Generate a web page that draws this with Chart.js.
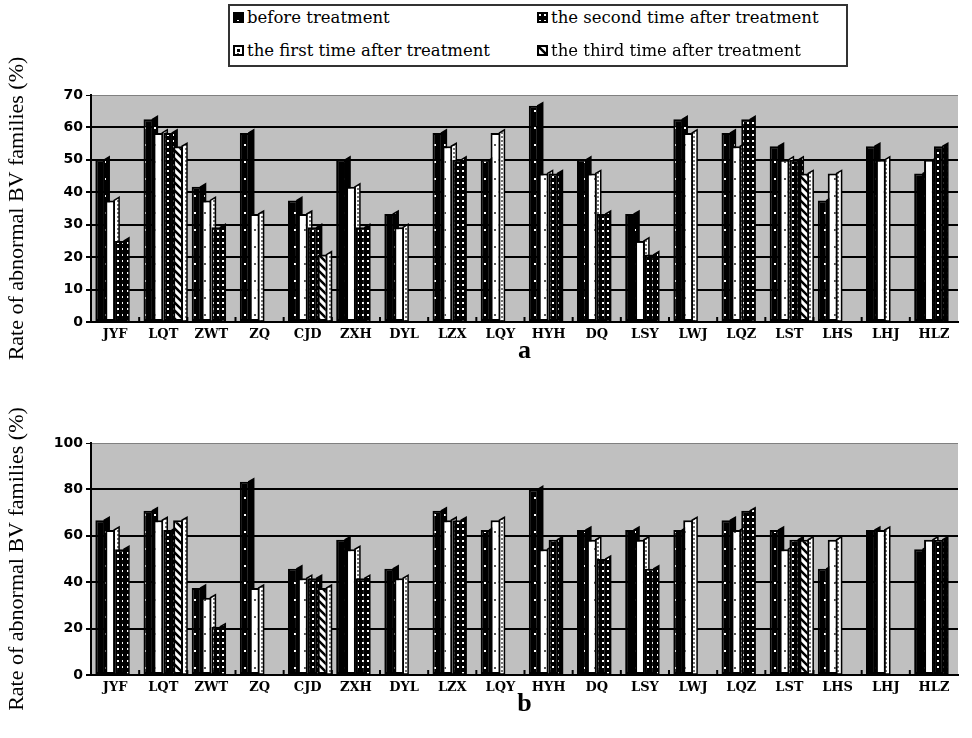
<!DOCTYPE html>
<html><head><meta charset="utf-8">
<script src="https://cdn.jsdelivr.net/npm/chart.js@4/dist/chart.umd.min.js"></script>
<style>
html,body{margin:0;padding:0;background:#fff;width:972px;height:738px;overflow:hidden}
#legend{position:absolute;left:228px;top:4px;width:620px;height:63px;border:2px solid #333;box-sizing:border-box;font-family:"DejaVu Serif";font-size:16.5px;color:#000}
.item{position:absolute;display:flex;align-items:center;white-space:nowrap;height:20px}
.item canvas{margin-right:3px}
#ca{position:absolute;left:0;top:0}
#cb{position:absolute;left:0;top:370px}
</style></head>
<body>
<div id="legend"></div>
<canvas id="ca" width="972" height="370"></canvas>
<canvas id="cb" width="972" height="368"></canvas>
<script>
const categories = ["JYF","LQT","ZWT","ZQ","CJD","ZXH","DYL","LZX","LQY","HYH","DQ","LSY","LWJ","LQZ","LST","LHS","LHJ","HLZ"];
const seriesNames = ["before treatment","the first time after treatment","the second time after treatment","the third time after treatment"];

// chart a
const beforeA = [50, 62.5, 41.7, 58.3, 37.5, 50, 33.3, 58.3, 50, 66.7, 50, 33.3, 62.5, 58.3, 54.2, 37.5, 54.2, 45.8];
const firstA  = [37.5, 58.3, 37.5, 33.3, 33.3, 41.7, 29.2, 54.2, 58.3, 45.8, 45.8, 25, 58.3, 54.2, 50, 45.8, 50, 50];
const secondA = [25, 58.3, 29.2, null, 29.2, 29.2, null, 50, null, 45.8, 33.3, 20.8, null, 62.5, 50, null, null, 54.2];
const thirdA  = [null, 54.2, null, null, 20.8, null, null, null, null, null, null, null, null, null, 45.8, null, null, null];
const yTicksA = [0, 10, 20, 30, 40, 50, 60, 70];

// chart b
const beforeB = [66.7, 70.8, 37.5, 83.3, 45.8, 58.3, 45.8, 70.8, 62.5, 80, 62.5, 62.5, 62.5, 66.7, 62.5, 45.8, 62.5, 54.2];
const firstB  = [62.5, 66.7, 33.3, 37.5, 41.7, 54.2, 41.7, 66.7, 66.7, 54.2, 58.3, 58.3, 66.7, 62.5, 54.2, 58.3, 62.5, 58.3];
const secondB = [54.2, 62.5, 20.8, null, 41.7, 41.7, null, 66.7, null, 58.3, 50, 45.8, null, 70.8, 58.3, null, null, 58.3];
const thirdB  = [null, 66.7, null, null, 37.5, null, null, null, null, null, null, null, null, null, 58.3, null, null, null];
const yTicksB = [0, 20, 40, 60, 80, 100];

function makeTile(w,h,draw){const c=document.createElement('canvas');c.width=w;c.height=h;const g=c.getContext('2d');draw(g,w,h);return c;}
const tiles = [
  makeTile(10,17,(g,w,h)=>{g.fillStyle='#000';g.fillRect(0,0,w,h);g.fillStyle='#fff';g.fillRect(4,8,2,2);}),
  makeTile(10,17,(g,w,h)=>{g.fillStyle='#fff';g.fillRect(0,0,w,h);g.fillStyle='#555';g.fillRect(4,8,2,2);}),
  makeTile(5,6,(g,w,h)=>{g.fillStyle='#000';g.fillRect(0,0,w,h);g.fillStyle='#fff';g.fillRect(2,2,2,2);}),
  makeTile(8,8,(g,w,h)=>{g.fillStyle='#fff';g.fillRect(0,0,w,h);g.strokeStyle='#000';g.lineWidth=2.5;g.beginPath();g.moveTo(-2,-2);g.lineTo(10,10);g.moveTo(-2,6);g.lineTo(2,10);g.moveTo(6,-2);g.lineTo(10,2);g.stroke();})
];
const sideTiles = [
  tiles[0],
  makeTile(4,4,(g,w,h)=>{g.fillStyle='#fff';g.fillRect(0,0,w,h);g.fillStyle='#777';g.fillRect(1,0,2,2);}),
  tiles[2],
  makeTile(4,4,(g,w,h)=>{g.fillStyle='#fff';g.fillRect(0,0,w,h);g.fillStyle='#777';g.fillRect(1,0,2,2);})
];

// legend
const legendLayout = [[0,3,11],[2,307,11],[1,3,44],[3,307,44]];
const leg = document.getElementById('legend');
legendLayout.forEach(([si,x,y])=>{
  const d=document.createElement('div');d.className='item';d.style.left=x+'px';d.style.top=(y-10)+'px';
  const c=document.createElement('canvas');c.width=11;c.height=11;const g=c.getContext('2d');
  g.fillStyle=g.createPattern(tiles[si],'repeat');g.fillRect(0,0,11,11);
  if(si===1){g.fillStyle='#000';g.fillRect(4,4,3,3);}
  g.strokeStyle='#000';g.lineWidth=2;g.strokeRect(1,1,9,9);
  d.appendChild(c);const s=document.createElement('span');s.textContent=seriesNames[si];d.appendChild(s);leg.appendChild(d);
});

const DX=4, DY=3;
const framePlugin = {
  id:'frame',
  beforeDraw(chart){const {ctx,chartArea:a}=chart;ctx.save();ctx.fillStyle='#c0c0c0';ctx.fillRect(a.left,a.top,a.right-a.left,a.bottom-a.top);ctx.restore();},
  beforeDatasetsDraw(chart){
    const ctx=chart.ctx;const sides=chart.$sides;
    chart.data.datasets.forEach((ds,di)=>{
      const meta=chart.getDatasetMeta(di);
      meta.data.forEach((el,i)=>{
        if(ds.data[i]==null)return;
        const p=el.getProps(['x','y','base','width'],true);
        const xr=p.x+p.width/2;
        ctx.save();ctx.beginPath();
        ctx.moveTo(xr-1,p.y);ctx.lineTo(xr+DX,p.y-DY);ctx.lineTo(xr+DX,p.base);ctx.lineTo(xr-1,p.base);ctx.closePath();
        ctx.fillStyle=sides[di];ctx.fill();ctx.lineWidth=1.5;ctx.strokeStyle='#000';ctx.stroke();ctx.restore();
      });
    });
  },
  afterDatasetsDraw(chart){
    const xs=chart.scales.x;const ctx=chart.ctx;const b=chart.chartArea.bottom;
    ctx.save();ctx.strokeStyle='#000';ctx.lineWidth=2;
    for(let i=1;i<categories.length;i++){
      const x=(xs.getPixelForValue(i-1)+xs.getPixelForValue(i))/2;
      ctx.beginPath();ctx.moveTo(x,b);ctx.lineTo(x,b-5);ctx.stroke();
    }
    ctx.restore();
  }
};

function build(id, series, yTicks, title, padTop, padBottom){
  const ctx=document.getElementById(id).getContext('2d');
  const pats=tiles.map(t=>ctx.createPattern(t,'repeat'));
  const max=yTicks[yTicks.length-1];
  const step=yTicks[1]-yTicks[0];
  return new Chart(ctx,{
    type:'bar',
    data:{labels:categories,datasets:seriesNames.map((n,i)=>({label:n,data:series[i],backgroundColor:pats[i],borderColor:'#000',borderWidth:2,borderSkipped:false,categoryPercentage:0.82,barPercentage:1}))},
    options:{
      responsive:false,animation:false,events:[],
      layout:{padding:{left:0,right:14,top:padTop,bottom:padBottom}},
      plugins:{legend:{display:false},tooltip:{enabled:false}},
      scales:{
        x:{grid:{display:false,drawTicks:false},border:{display:true,color:'#000',width:2},
           ticks:{color:'#000',font:{family:'DejaVu Serif',size:13,weight:'bold'},padding:5,maxRotation:0,autoSkip:false},
           title:{display:true,text:title,color:'#000',font:{family:'Liberation Serif',size:26,weight:'bold'},padding:{top:2,bottom:0}},
           afterFit(s){s.height=45;}},
        y:{min:0,max:max,
           afterBuildTicks(s){s.ticks=yTicks.map(v=>({value:v}));},
           ticks:{stepSize:step,color:'#000',font:{family:'DejaVu Sans',size:14,weight:'bold'},padding:3},
           grid:{color:c=>(c.tick&&c.tick.value===max)?'#808080':'#000',lineWidth:c=>(c.tick&&c.tick.value===max)?1:2,tickLength:5,tickColor:'#000'},
           border:{display:true,color:'#000',width:2},
           title:{display:true,text:'Rate of abnormal BV families (%)',color:'#000',font:{family:'Liberation Serif',size:22},padding:{top:4,bottom:0}},
           afterFit(s){s.width=91;}}
      }
    },
    plugins:[framePlugin]
  });
}
Chart.register({id:'sidesInit',beforeInit(chart){chart.$sides=sideTiles.map(t=>chart.ctx.createPattern(t,'repeat'));}});
build('ca',[beforeA,firstA,secondA,thirdA],yTicksA,'a',95,3);
build('cb',[beforeB,firstB,secondB,thirdB],yTicksB,'b',73,18);
</script>
</body></html>
